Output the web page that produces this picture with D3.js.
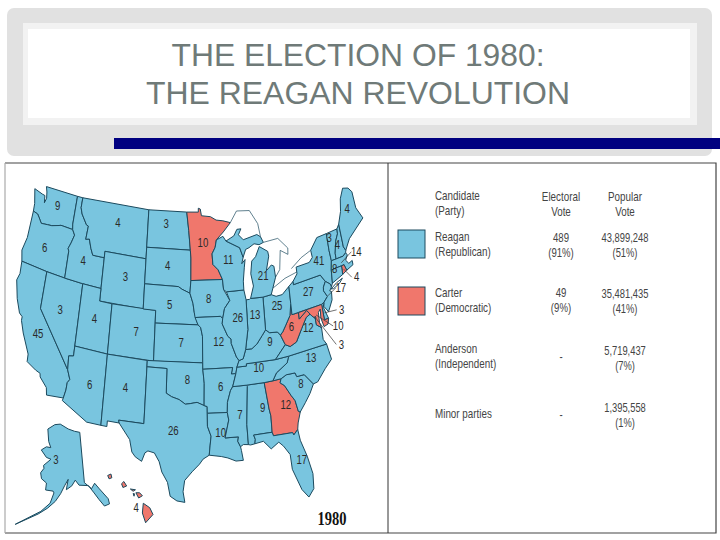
<!DOCTYPE html>
<html><head><meta charset="utf-8">
<script src="https://cdn.jsdelivr.net/npm/d3@7"></script>
<style>html,body{margin:0;padding:0;background:#fff}svg{display:block}</style>
</head><body><svg id="c" width="720" height="540"></svg>
<script>
const titleLines=["THE ELECTION OF 1980:","THE REAGAN REVOLUTION"];
const yearLabel="1980";
const legendHeader=[["Candidate","(Party)"],["Electoral","Vote"],["Popular","Vote"]];
const candidates=[["Reagan","(Republican)"],["Carter","(Democratic)"],["Anderson","(Independent)"],["Minor parties"]];
const electoral=[["489","(91%)"],["49","(9%)"],["-"],["-"]];
const popular=[["43,899,248","(51%)"],["35,481,435","(41%)"],["5,719,437","(7%)"],["1,395,558","(1%)"]];
const swatchParty=["R","D"];
const stateNames=["WA","OR","CA","NV","ID","MT","WY","UT","CO","AZ","NM","ND","SD","NE","KS","OK","TX","MN","IA","MO","AR","LA","MS","AL","GA","FL","SC","NC","TN","KY","VA","WV","OH","IN","IL","WI","MI","PA","NY","VT","NH","ME","MA","RI","CT","NJ","DE","MD"];
const stateVotes=[9,6,45,3,4,4,3,4,7,6,4,3,4,5,7,8,26,10,8,12,6,10,7,9,12,17,8,13,10,9,12,6,25,13,26,11,21,27,41,3,4,4,14,4,8,17,3,10];
const carterStates=["MN","GA","WV","MD","RI","DC","HI"];
const stateRings=[
"-124.7 48.4,-123.2 48.15,-122.7 48.1,-122.5 47.4,-122.3 47.9,-122.5 48.5,-122.8 49,-117.03 49,-117.04 46.42,-116.92 45.99,-118.98 46,-119.3 45.93,-120.5 45.7,-121.2 45.65,-122.3 45.55,-122.8 45.9,-123.2 46.15,-124 46.25,-124.1 47",
"-124 46.25,-123.2 46.15,-122.8 45.9,-122.3 45.55,-121.2 45.65,-120.5 45.7,-119.3 45.93,-118.98 46,-116.92 45.99,-116.46 45.6,-116.85 44.9,-117.2 44.4,-117.03 44.2,-117.03 42,-120 42,-124.2 42,-124.55 42.85,-124.1 44",
"-124.2 42,-120 42,-120 39,-114.63 35,-114.14 34.3,-114.45 34,-114.5 33.4,-114.72 32.72,-117.12 32.53,-117.3 33.1,-118.4 33.75,-118.5 34.03,-119.2 34.15,-120.6 34.55,-120.65 35.15,-121.9 36.6,-122.5 37.5,-122.5 37.8,-123 38,-123.75 39,-124.4 40.4,-124.1 41",
"-120 42,-117.03 42,-114.04 42,-114.04 36.2,-114.75 36.1,-114.63 35,-120 39",
"-117.03 49,-116.05 49,-116.05 48,-115.7 47.45,-114.7 46.7,-114.35 46.65,-114.5 45.55,-113.9 45.65,-113.45 44.95,-113 44.45,-111.05 44.48,-111.05 42,-114.04 42,-117.03 42,-117.03 44.2,-117.2 44.4,-116.85 44.9,-116.46 45.6,-116.92 45.99,-117.04 46.42",
"-116.05 49,-104.05 49,-104.05 45,-111.05 45,-111.05 44.48,-113 44.45,-113.45 44.95,-113.9 45.65,-114.5 45.55,-114.35 46.65,-114.7 46.7,-115.7 47.45,-116.05 48",
"-111.05 45,-104.05 45,-104.05 41,-111.05 41",
"-114.04 42,-111.05 42,-111.05 41,-109.05 41,-109.05 37,-114.04 37",
"-109.05 41,-102.05 41,-102.05 37,-109.05 37",
"-114.04 37,-109.05 37,-109.05 31.33,-111.07 31.33,-114.81 32.5,-114.72 32.72,-114.5 33.4,-114.45 34,-114.14 34.3,-114.63 35,-114.75 36.1,-114.04 36.2",
"-109.05 37,-103 37,-103.04 32,-106.62 32,-106.53 31.78,-108.2 31.78,-108.2 31.33,-109.05 31.33",
"-104.05 49,-97.23 49,-96.85 47.5,-96.56 45.93,-104.05 45.93",
"-104.05 45.93,-96.56 45.93,-96.45 45.3,-96.45 43.5,-96.6 42.5,-97.9 42.8,-98.5 43,-104.05 43",
"-104.05 43,-98.5 43,-97.9 42.8,-96.6 42.5,-96.1 41.7,-95.9 41,-95.31 40,-102.05 40,-102.05 41,-104.05 41",
"-102.05 40,-95.31 40,-94.9 39.8,-94.62 39.1,-94.62 37,-102.05 37",
"-103 37,-94.62 37,-94.62 36.5,-94.43 35.4,-94.48 33.64,-95.5 33.9,-96.5 33.8,-97.2 33.75,-98.1 34.1,-99.2 34.3,-100 34.56,-100 36.5,-103 36.5",
"-103 36.5,-100 36.5,-100 34.56,-99.2 34.3,-98.1 34.1,-97.2 33.75,-96.5 33.8,-95.5 33.9,-94.48 33.64,-94.04 33.55,-94.04 33.02,-94.04 32,-93.55 31.2,-93.7 30.5,-93.85 29.7,-94.7 29.4,-95.2 29,-96.2 28.4,-97.2 27.7,-97.4 26.8,-97.15 25.95,-98.2 26.05,-99.1 26.4,-99.5 27.5,-100.3 28.3,-100.7 29.1,-101.4 29.77,-102.3 29.88,-102.7 29.7,-103.1 29,-104 29.3,-104.5 29.65,-104.9 30.6,-106.53 31.78,-106.62 32,-103.04 32",
"-97.23 49,-95.15 49,-95.15 49.38,-94.8 49.3,-94.6 48.7,-93 48.6,-92 48.3,-90.8 48.2,-89.5 48,-90.8 47.3,-92.05 46.7,-92.3 46.1,-92.85 45.6,-92.75 44.75,-91.9 44.3,-91.22 43.5,-96.45 43.5,-96.45 45.3,-96.56 45.93,-96.85 47.5",
"-96.45 43.5,-91.22 43.5,-91.1 42.7,-90.15 41.8,-91.05 41.2,-91.4 40.4,-91.7 40.6,-95.77 40.58,-95.9 41,-96.1 41.7,-96.6 42.5",
"-95.77 40.58,-91.7 40.6,-91.4 40.4,-91.5 40,-90.7 39,-90.2 38.75,-90.2 38.4,-89.5 37.3,-89.13 37,-89.5 36.5,-89.7 36,-90.37 36,-90.15 36.5,-94.62 36.5,-94.62 37,-94.62 39.1,-94.9 39.8,-95.31 40",
"-94.62 36.5,-94.43 35.4,-94.48 33.64,-94.04 33.55,-94.04 33.02,-91.17 33,-91.1 33.8,-90.6 34.7,-90.25 35,-89.7 36,-90.37 36,-90.15 36.5",
"-94.04 33.02,-91.17 33,-91 32.4,-91.6 31,-89.73 31,-89.85 30.65,-89.5 30.2,-89.4 29.9,-89.2 29.1,-90.2 29.1,-91.3 29.4,-92.2 29.55,-93.85 29.7,-93.7 30.5,-93.55 31.2,-94.04 32",
"-91.17 33,-91.1 33.8,-90.6 34.7,-90.25 35,-88.2 35,-88.1 34.9,-88.47 31.9,-88.4 30.3,-89.1 30.35,-89.5 30.2,-89.85 30.65,-89.73 31,-91.6 31,-91 32.4",
"-88.2 35,-85.6 35,-85.18 32.87,-85 32.3,-85 31,-87.6 31,-87.4 30.65,-87.5 30.3,-88.1 30.25,-88.4 30.3,-88.47 31.9,-88.1 34.9",
"-85.6 35,-84.32 35,-83.1 35,-83.3 34.7,-82.7 34.4,-81.9 33.5,-81.4 33,-81.1 32.1,-80.85 32,-81.3 31.2,-81.45 30.7,-82.05 30.36,-82.2 30.57,-84.86 30.7,-85 31,-85 32.3,-85.18 32.87",
"-87.6 31,-85 31,-84.86 30.7,-82.2 30.57,-82.05 30.36,-81.45 30.7,-81.25 29.8,-80.55 28.4,-80.05 26.9,-80.15 25.7,-80.9 25.15,-81.7 25.9,-82.7 27.7,-82.8 28.9,-83.6 29.7,-84.2 30.1,-85.3 29.7,-86.3 30.4,-87.5 30.3,-87.4 30.65",
"-83.1 35,-82.3 35.2,-81 35.15,-80.8 34.82,-79.7 34.8,-78.55 33.85,-79.2 33.2,-80 32.6,-80.85 32,-81.1 32.1,-81.4 33,-81.9 33.5,-82.7 34.4,-83.3 34.7",
"-84.32 35,-83.1 35,-82.3 35.2,-81 35.15,-80.8 34.82,-79.7 34.8,-78.55 33.85,-77.9 33.9,-76.6 34.7,-75.5 35.25,-75.9 36.55,-81.68 36.59,-82 36.1,-83.7 35.55",
"-90.25 35,-89.7 36,-89.5 36.5,-88.07 36.5,-88.07 36.68,-83.68 36.6,-81.68 36.59,-82 36.1,-83.7 35.55,-84.32 35,-85.6 35,-88.2 35",
"-89.5 36.5,-89.13 37,-88.5 37.1,-88.05 37.8,-87.1 37.8,-86.3 38.1,-85.4 38.7,-84.8 39.1,-84.2 38.8,-83 38.7,-82.6 38.4,-82 37.55,-83.68 36.6,-88.07 36.68,-88.07 36.5",
"-83.68 36.6,-81.68 36.59,-75.9 36.55,-76.3 37,-76.3 37.95,-77 38.3,-77.05 38.85,-77.5 39.1,-77.75 39.3,-78.4 39.15,-79.3 38.4,-80.3 37.5,-81.3 37.3,-82 37.55",
"-82.6 38.4,-82 37.55,-81.3 37.3,-80.3 37.5,-79.3 38.4,-78.4 39.15,-77.75 39.3,-78.2 39.68,-79.48 39.2,-79.48 39.72,-80.52 39.72,-80.52 40.6,-80.85 39.7,-81.7 39,-82.2 38.6",
"-84.8 39.1,-84.8 41.7,-83.45 41.73,-82.7 41.5,-81.7 41.5,-80.52 41.98,-80.52 40.6,-80.85 39.7,-81.7 39,-82.2 38.6,-82.6 38.4,-83 38.7,-84.2 38.8",
"-87.53 41.7,-87 41.7,-86.8 41.76,-84.8 41.7,-84.8 39.1,-85.4 38.7,-86.3 38.1,-87.1 37.8,-88.05 37.8,-87.53 39.35",
"-90.65 42.5,-87.8 42.5,-87.53 41.7,-87.53 39.35,-88.05 37.8,-88.5 37.1,-89.13 37,-89.5 37.3,-90.2 38.4,-90.2 38.75,-90.7 39,-91.5 40,-91.4 40.4,-91.05 41.2,-90.15 41.8",
"-92.3 46.1,-92.05 46.7,-90.9 46.95,-90.4 46.55,-88.1 45.9,-87.6 45.1,-87.9 44.6,-87.3 44.9,-87.5 44.3,-87.8 43.2,-87.8 42.5,-90.65 42.5,-91.1 42.7,-91.22 43.5,-91.9 44.3,-92.75 44.75,-92.85 45.6",
"-86.8 41.76,-84.8 41.7,-83.45 41.73,-83.1 42.2,-82.5 43,-82.6 43.9,-83 44.05,-83.9 43.7,-83.3 44.8,-83.4 45.2,-84.75 45.75,-85.5 45,-86.2 44.7,-86.5 43.7,-86.2 42.7",
"-80.52 41.98,-79.76 42.27,-79.76 42,-75.35 42,-74.7 41.36,-75.13 40.98,-75.2 40.7,-74.73 40.15,-75.4 39.8,-75.79 39.72,-80.52 39.72,-80.52 40.6",
"-79.76 42.27,-79 42.75,-79 43.3,-76.8 43.3,-76.2 43.6,-76.3 44.2,-75 45,-73.35 45,-73.35 43.6,-73.25 42.75,-73.5 42.05,-73.65 41,-73.9 40.75,-74 41,-74.7 41.36,-75.35 42,-79.76 42",
"-73.35 45,-71.5 45,-71.55 44.6,-72.05 44.1,-72.45 43.2,-72.46 42.73,-73.25 42.75,-73.35 43.6",
"-71.5 45,-71.08 45.3,-70.98 43.4,-70.7 43.05,-70.8 42.87,-71.3 42.7,-72.46 42.73,-72.45 43.2,-72.05 44.1,-71.55 44.6",
"-71.08 45.3,-70.4 46.2,-70 47.3,-69.2 48.2,-68.3 48,-67.8 47.5,-67.8 45.9,-67 44.85,-68.5 44.3,-69.8 43.8,-70.7 43.05,-70.98 43.4",
"-73.5 42.05,-73.25 42.75,-72.46 42.73,-71.3 42.7,-70.8 42.87,-70.6 42.65,-71 42.3,-70.6 41.95,-70 42.05,-70 41.7,-71.12 41.5,-71.38 42.02,-71.8 42.02",
"-71.8 42.02,-71.38 42.02,-71.12 41.5,-71.85 41.32",
"-73.5 42.05,-71.8 42.02,-71.85 41.32,-73.65 41",
"-74.7 41.36,-74 41,-73.9 40.75,-74.25 40.5,-74 40.4,-74.1 39.75,-74.9 38.95,-75.5 39.5,-75.4 39.8,-74.73 40.15,-75.2 40.7,-75.13 40.98",
"-75.79 39.72,-75.4 39.8,-75.6 39.45,-75.05 38.45,-75.7 38.46",
"-79.48 39.72,-75.79 39.72,-75.7 38.46,-75.05 38.45,-75.25 38.03,-75.9 37.95,-76.2 38.7,-76.1 39.4,-76.45 39.2,-76.5 38.4,-76.3 37.95,-77 38.3,-77.05 38.85,-77.5 39.1,-77.75 39.3,-78.2 39.68,-79.48 39.2"
];
const michiganUpper="-90.4 46.55,-89 46.9,-88.4 47.4,-87.7 47.4,-88.2 46.95,-87.4 46.5,-85 46.75,-84.4 46.5,-84 46,-84.75 45.9,-85.6 46.05,-86.5 45.8,-87.1 45.7,-87.6 45.1,-88.1 45.9";
const longIsland="-74 40.6,-73 40.9,-72 41.05,-72.6 40.75,-73.6 40.55";
const dcRing="-77.12 38.93,-77.04 39,-76.91 38.9,-77.04 38.8";
const lakeShores=["-89.5 48,-88.3 48.9,-86 48.8,-84.7 47.6,-84.4 46.5","-84 46,-81.5 46,-80 45,-80.1 44.5,-81.3 45,-81.7 43.5,-82.5 43","-83.1 42.2,-81 42.7,-79 42.9","-79.8 43.3,-78 43.9,-76.3 44.2"];
const alaskaRing="-141 69.65,-141 60.3,-137.5 58.9,-135.5 59.7,-133.5 58.4,-130.1 56,-130 55,-132.5 55,-134.5 56.5,-136.5 58,-139 59.6,-144 60,-146 61,-148 60,-151 59.3,-150 61.2,-152 60,-154 58.5,-156.5 57,-160 55.5,-164 54,-173 50.4,-163 54.6,-159 56.5,-157.5 58.5,-158 58.8,-162 58.7,-162 60,-165 60.5,-166 61.5,-164.5 62.5,-165 63,-161 64.5,-164 64.6,-168 65.6,-165 66.5,-162 66.6,-164 67.6,-166 69.8,-161 71,-156.6 71.3,-150 70.5,-145 70";
const hawaiiIslands=["-159.75 22.1,-159.4 22.2,-159.3 21.95,-159.6 21.88","-158.25 21.55,-158 21.7,-157.7 21.4,-158.1 21.3","-157.3 21.2,-156.75 21.15,-157 21.05","-157 20.9,-156.85 20.88,-156.9 20.72","-156.7 20.95,-156.3 20.95,-156 20.75,-156.4 20.6","-155.9 20.25,-155.2 19.95,-154.85 19.5,-155.65 18.95,-156 19.6"];
const labelNudge={WA:[2,-2],OR:[-3,1],CA:[-2,2],NV:[-2,-2],ID:[0,6],MT:[2,-6],WY:[2,-3],UT:[1,-2],CO:[4,-1],AZ:[3,1],NM:[1,-2],ND:[-2,-6],SD:[-1,-2],KS:[3,0],OK:[4,-1],TX:[3,-2],MN:[-1,-2],IA:[0,1],MO:[2,-3],AR:[3,-2],LA:[-2,-5],WI:[-1,-5],IL:[1,-4],MI:[1,1],IN:[0,-7],OH:[0,-6],KY:[6,-8],TN:[0,-4],MS:[2,0],AL:[5,-4],GA:[4,-4],FL:[9,3],SC:[3,-5],NC:[4,-6],VA:[3,-11],WV:[-2,-1],PA:[1,-3],NY:[2,-2],ME:[-1,-8],VT:[-3,-6],NH:[-2,-1],CT:[-2,-5],MA:[15,-11],RI:[13,8],NJ:[13,-8],DE:[17,-3],MD:[22,11],DC:[26,27],AK:[-9,-4],HI:[3,14]};
const leaders=["MA","RI","NJ","DE","MD","DC"];

const pts=s=>s.split(",").map(p=>p.split(" ").map(Number));
const svg=d3.select("#c");
const BLUE="#79c5df",RED="#f0776c",EDGE="#1c4a5e",INK="#2a2a2a";

const cone=d3.geoConicEqualArea().parallels([29.5,45.5]).rotate([96,0]).center([0,37.5]).scale(1).translate([0,0]);
const xs=d3.scaleLinear().domain([-0.368,0.353]).range([17,363]);
const ys=d3.scaleLinear().domain([-0.2458,-0.2015,-0.1064,-0.0453,0.196]).range([186,212,280,324,498]);
const eastLift=d3.scaleLinear().domain([-85,-67]).range([0,7]).clamp(true);
const pLower=c=>{const p=cone(c);return [xs(p[0]),ys(p[1])-eastLift(c[0])]};
const coneAK=d3.geoConicEqualArea().parallels([55,65]).rotate([150,0]).center([0,62]).scale(1).translate([0,0]);
const xa=d3.scaleLinear().domain([-0.23,0.19]).range([20,108]);
const ya=d3.scaleLinear().domain([-0.17,0.17]).range([422,528]);
const pAK=c=>{const p=coneAK(c);return [xa(p[0]),ya(p[1])]};
const xh=d3.scaleLinear().domain([-159.5,-155.5]).range([110,147]);
const yh=d3.scaleLinear().domain([22,19.6]).range([477,513]);
const pHI=c=>[xh(c[0]),yh(c[1])];
const closed=(ring,f)=>d3.line()(ring.map(f))+"Z";
const open=(ring,f)=>d3.line()(ring.map(f));

// plate
svg.append("rect").attr("x",7).attr("y",8).attr("width",705).attr("height",148).attr("rx",7).attr("fill","#e1e1e1");
svg.append("rect").attr("x",23).attr("y",23).attr("width",674).attr("height",102).attr("fill","#f2f2f2");
svg.append("rect").attr("x",28).attr("y",29).attr("width",662).attr("height",89).attr("fill","#fff");
svg.append("rect").attr("x",114).attr("y",138).attr("width",606).attr("height",11).attr("fill","#000080");
const titleWidths=[373,424];
svg.selectAll("text.title").data(titleLines).join("text").attr("class","title")
 .attr("x",358).attr("y",(d,i)=>66+i*38).attr("text-anchor","middle")
 .attr("font-family","Liberation Sans").attr("font-size",32).attr("fill","#6f7a78")
 .attr("textLength",(d,i)=>titleWidths[i]).attr("lengthAdjust","spacingAndGlyphs").text(d=>d);

// frame
svg.append("rect").attr("x",5).attr("y",163).attr("width",711).attr("height",370).attr("fill","#fff");
svg.append("path").attr("d",d3.line()([[5,163],[716,163],[716,533],[5,533]])).attr("fill","none").attr("stroke","#444").attr("stroke-width",1.2);
svg.append("line").attr("x1",5).attr("x2",5).attr("y1",163).attr("y2",533).attr("stroke","#aaa").attr("stroke-width",1.2);
svg.append("line").attr("x1",388).attr("x2",388).attr("y1",163).attr("y2",533).attr("stroke","#333").attr("stroke-width",1);

// map
const map=svg.append("g").attr("stroke",EDGE).attr("stroke-width",1).attr("stroke-linejoin","round");
const fillOf=n=>carterStates.includes(n)?RED:BLUE;
map.selectAll("path.state").data(stateNames).join("path").attr("class","state")
 .attr("d",(d,i)=>closed(pts(stateRings[i]),pLower)).attr("fill",fillOf);
map.append("path").attr("d",closed(pts(michiganUpper),pLower)).attr("fill",BLUE);
map.append("path").attr("d",closed(pts(longIsland),pLower)).attr("fill","#fff");
map.append("path").attr("d",closed(pts(dcRing),pLower)).attr("fill",RED);
map.selectAll("path.shore").data(lakeShores).join("path").attr("class","shore")
 .attr("d",d=>open(pts(d),pLower)).attr("fill","none").attr("stroke-width",0.7);
map.append("path").attr("d",closed(pts(alaskaRing),pAK)).attr("fill",BLUE);
map.selectAll("path.hi").data(hawaiiIslands).join("path").attr("class","hi")
 .attr("d",d=>closed(pts(d),pHI)).attr("fill",RED);

// vote labels
const place=(n,v,c)=>{const k=labelNudge[n]||[0,0];return {n,v,c,x:c[0]+k[0],y:c[1]+k[1]}};
const labelData=stateNames.map((n,i)=>place(n,stateVotes[i],d3.polygonCentroid(pts(stateRings[i]).map(pLower))));
labelData.push(place("DC",3,d3.polygonCentroid(pts(dcRing).map(pLower))));
labelData.push(place("AK",3,d3.polygonCentroid(pts(alaskaRing).map(pAK))));
labelData.push(place("HI",4,pHI(pts(hawaiiIslands[3])[0])));
svg.selectAll("line.lead").data(labelData.filter(d=>leaders.includes(d.n))).join("line").attr("class","lead")
 .attr("x1",d=>d.c[0]).attr("y1",d=>d.c[1]).attr("x2",d=>d.x-5).attr("y2",d=>d.y).attr("stroke","#333").attr("stroke-width",0.7);
svg.selectAll("text.vote").data(labelData).join("text").attr("class","vote")
 .attr("transform",d=>`translate(${d.x},${d.y}) scale(0.8,1)`).attr("dy","0.35em").attr("text-anchor","middle")
 .attr("font-family","Liberation Sans").attr("font-size",12).attr("fill",INK).text(d=>d.v);

svg.append("text").attr("x",332).attr("y",525).attr("text-anchor","middle").attr("font-family","Liberation Serif").attr("font-weight","bold").attr("font-size",18).attr("textLength",29).attr("lengthAdjust","spacingAndGlyphs").attr("fill","#111").text(yearLabel);

// legend
const addLines=(x,y,lines,anchor,sx)=>lines.forEach((t,i)=>svg.append("text").attr("transform",`translate(${x},${y+i*15}) scale(${sx},1)`).attr("text-anchor",anchor)
  .attr("font-family","Liberation Sans").attr("font-size",12).attr("fill","#444").text(t));
addLines(435,200,legendHeader[0],"start",.82);
addLines(561,201,legendHeader[1],"middle",.82);
addLines(625,201,legendHeader[2],"middle",.82);
swatchParty.forEach((p,i)=>svg.append("rect").attr("x",398).attr("y",[230,287][i]).attr("width",27).attr("height",28).attr("fill",p=="R"?BLUE:RED).attr("stroke",EDGE).attr("stroke-width",1));
candidates.forEach((c,i)=>addLines(435,[241,297,353,418][i],c,"start",.82));
electoral.forEach((c,i)=>addLines(561,[242,297,361,419][i],c,"middle",.8));
popular.forEach((c,i)=>addLines(625,[242,298,355,412][i],c,"middle",.78));
</script></body></html>
